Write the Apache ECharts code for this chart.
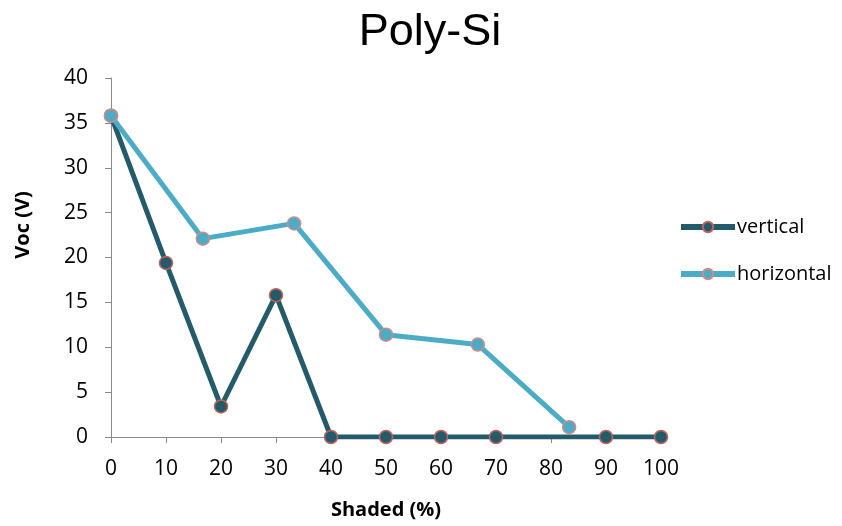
<!DOCTYPE html>
<html><head><meta charset="utf-8">
<script src="https://cdn.jsdelivr.net/npm/echarts@6/dist/echarts.min.js"></script>
<style>html,body{margin:0;padding:0;background:#fff}#c{width:842px;height:526px}</style>
</head><body><div id="c"></div>
<script>
const titleText = 'Poly-Si';
const xName = 'Shaded (%)';
const yName = 'Voc (V)';
const verticalX = [0, 10, 20, 30, 40, 50, 60, 70, 90, 100];
const verticalY = [35.8, 19.4, 3.4, 15.8, 0, 0, 0, 0, 0, 0];
const horizontalX = [0, 16.7, 33.3, 50, 66.7, 83.3];
const horizontalY = [35.8, 22.1, 23.8, 11.4, 10.3, 1.1];
const seriesNames = ['vertical', 'horizontal'];

const chart = echarts.init(document.getElementById('c'), null, {renderer: 'canvas'});
const font = '"Open Sans", Lato, sans-serif';
const axisGray = '#8a8a8a';
function pairs(xs, ys) { return xs.map((x, i) => [x, ys[i]]); }
chart.setOption({
  animation: false,
  backgroundColor: '#fff',
  title: {
    text: titleText, left: 425, top: 5, textAlign: 'center',
    textStyle: {fontFamily: 'Liberation Sans, Arial, sans-serif', fontSize: 45, fontWeight: 'normal', color: '#000'}
  },
  legend: {
    orient: 'vertical', left: 678, top: 217, padding: 0, itemWidth: 54, itemHeight: 13, itemGap: 27,
    data: seriesNames,
    lineStyle: {width: 6},
    textStyle: {fontFamily: font, fontSize: 20, color: '#000', padding: [0, 0, 0, -3]}
  },
  grid: {left: 111, right: 181, top: 78, bottom: 89, outerBoundsMode: 'none', containLabel: false},
  xAxis: {
    type: 'value', min: 0, max: 100, interval: 10,
    name: xName, nameLocation: 'middle', nameGap: 63,
    nameTextStyle: {fontFamily: font, fontSize: 20, fontWeight: 'bold', color: '#000'},
    axisLine: {lineStyle: {color: axisGray, width: 1}},
    axisTick: {show: true, inside: false, length: 6, lineStyle: {color: axisGray}},
    axisLabel: {fontFamily: font, fontSize: 21, color: '#000', margin: 22},
    splitLine: {show: false}
  },
  yAxis: {
    type: 'value', min: 0, max: 40, interval: 5,
    axisLine: {show: true, lineStyle: {color: axisGray, width: 1}},
    axisTick: {show: true, inside: false, length: 6, lineStyle: {color: axisGray}},
    axisLabel: {fontFamily: font, fontSize: 21, color: '#000', margin: 23},
    splitLine: {show: false}
  },
  graphic: [{
    type: 'text', x: 23, y: 225, rotation: Math.PI / 2,
    style: {text: yName, fontFamily: font, fontSize: 20, fontWeight: 'bold', fill: '#000', align: 'center', verticalAlign: 'middle'}
  }],
  series: [
    {
      name: seriesNames[0], type: 'line', data: pairs(verticalX, verticalY),
      symbol: 'circle', symbolSize: 13,
      lineStyle: {color: '#235B6B', width: 5},
      itemStyle: {color: '#235B6B', borderColor: '#C0625E', borderWidth: 1.5},
      z: 2
    },
    {
      name: seriesNames[1], type: 'line', data: pairs(horizontalX, horizontalY),
      symbol: 'circle', symbolSize: 13,
      lineStyle: {color: '#4BACC6', width: 5},
      itemStyle: {color: '#4BACC6', borderColor: '#D08A8A', borderWidth: 1.5},
      z: 3
    }
  ]
});
</script></body></html>
